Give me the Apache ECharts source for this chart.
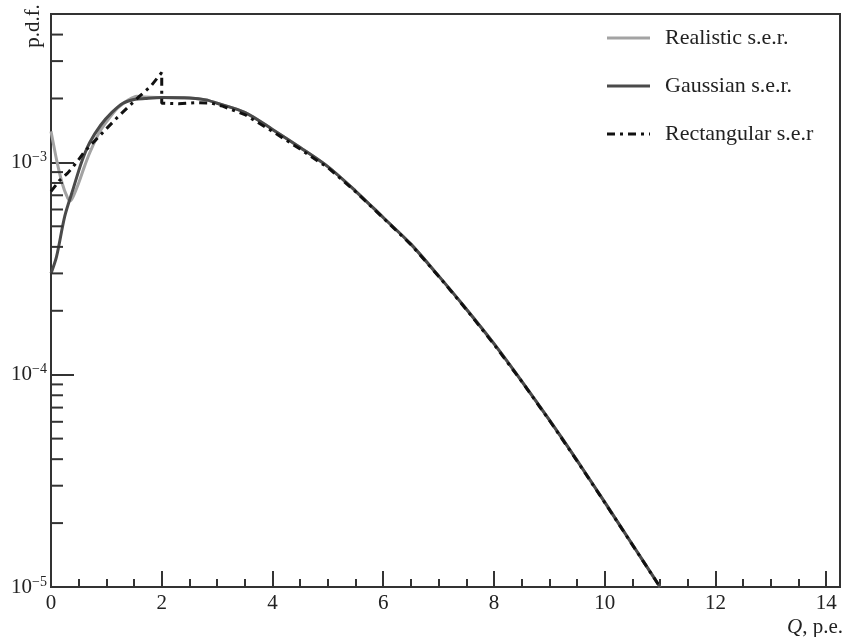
<!DOCTYPE html>
<html>
<head>
<meta charset="utf-8">
<script src="https://cdn.jsdelivr.net/npm/echarts@6/dist/echarts.min.js"></script>
<style>html,body{margin:0;padding:0;background:#fff}#c{width:847px;height:637px}</style>
</head>
<body>
<div id="c"></div>
<script>
// Realistic s.e.r.
const realX = [0,0.05,0.1,0.2,0.3,0.35,0.4,0.5,0.6,0.7,0.85,1.0,1.2,1.4,1.55,1.7,2.0,2.5,2.8,3.0,3.5,4.0,4.5,5.0,5.5,6.0,6.5,7.0,7.5,8.0,8.5,9.0,9.5,10.0,10.5,11.0];
const realY = [1.4e-3,1.2e-3,1.03e-3,8.0e-4,6.8e-4,6.6e-4,6.9e-4,8.0e-4,9.5e-4,1.11e-3,1.35e-3,1.55e-3,1.8e-3,1.97e-3,2.05e-3,2.03e-3,2.02e-3,2.01e-3,1.97e-3,1.9e-3,1.72e-3,1.43e-3,1.175e-3,9.55e-4,7.33e-4,5.5e-4,4.12e-4,2.92e-4,2.04e-4,1.4e-4,9.33e-5,6.12e-5,3.95e-5,2.51e-5,1.585e-5,1.0e-5];
// Gaussian s.e.r.
const gaussX = [0,0.1,0.25,0.4,0.55,0.7,0.9,1.1,1.3,1.5,1.7,2.0,2.5,2.8,3.0,3.5,4.0,4.5,5.0,5.5,6.0,6.5,7.0,7.5,8.0,8.5,9.0,9.5,10.0,10.5,11.0];
const gaussY = [3.0e-4,3.6e-4,5.6e-4,7.5e-4,1.0e-3,1.24e-3,1.5e-3,1.72e-3,1.9e-3,1.98e-3,2.0e-3,2.02e-3,2.01e-3,1.97e-3,1.9e-3,1.72e-3,1.43e-3,1.175e-3,9.55e-4,7.33e-4,5.5e-4,4.12e-4,2.92e-4,2.04e-4,1.4e-4,9.33e-5,6.12e-5,3.95e-5,2.51e-5,1.585e-5,1.0e-5];
// Rectangular s.e.r
const rectX = [0,0.15,0.3,0.45,0.6,0.8,1.0,1.2,1.4,1.6,1.8,2.0,2.0,2.3,2.6,2.9,3.1,3.5,4.0,4.5,5.0,5.5,6.0,6.5,7.0,7.5,8.0,8.5,9.0,9.5,10.0,10.5,11.0];
const rectY = [7.3e-4,8.2e-4,8.9e-4,9.9e-4,1.12e-3,1.27e-3,1.44e-3,1.63e-3,1.83e-3,2.05e-3,2.28e-3,2.65e-3,1.9e-3,1.89e-3,1.91e-3,1.9e-3,1.84e-3,1.68e-3,1.4e-3,1.155e-3,9.45e-4,7.28e-4,5.47e-4,4.1e-4,2.91e-4,2.03e-4,1.39e-4,9.3e-5,6.1e-5,3.93e-5,2.5e-5,1.58e-5,1.0e-5];
// axis ticks
const yMinorTicks = [2e-5,3e-5,4e-5,5e-5,6e-5,7e-5,8e-5,9e-5,2e-4,3e-4,4e-4,5e-4,6e-4,7e-4,8e-4,9e-4,2e-3,3e-3,4e-3];
const seriesNames = ['Realistic s.e.r.','Gaussian s.e.r.','Rectangular s.e.r'];

const zip = (xs, ys) => xs.map((x, i) => [x, ys[i]]);
const SERIF = '"Liberation Serif", "DejaVu Serif", serif';
const SOLID_ICON = 'path://M0,0H43V3H0Z';
const DASHDOT_ICON = 'path://M0,0H8V3H0Z M13,0H16V3H13Z M21,0H29V3H21Z M34,0H37V3H34Z M42,0H43V3H42Z';
const chart = echarts.init(document.getElementById('c'));
chart.setOption({
  animation: false,
  backgroundColor: '#fff',
  grid: {left: 51, right: 7, top: 14, bottom: 50, show: true, borderColor: '#333', borderWidth: 2, backgroundColor: 'transparent'},
  legend: {
    orient: 'vertical', left: 602, top: 22,
    itemWidth: 43, itemHeight: 3, itemGap: 26,
    data: [
      {name: seriesNames[0], icon: SOLID_ICON},
      {name: seriesNames[1], icon: SOLID_ICON},
      {name: seriesNames[2], icon: DASHDOT_ICON}
    ],
    textStyle: {fontFamily: SERIF, fontSize: 22, color: '#222', padding: [0,0,0,10], lineHeight: 22}
  },
  xAxis: [{
    type: 'value', min: 0, max: 14.25, interval: 2,
    axisLine: {show: true, lineStyle: {color: '#333', width: 2}},
    axisTick: {show: true, inside: true, length: 16, lineStyle: {color: '#333', width: 2}},
    axisLabel: {fontFamily: SERIF, fontSize: 21, color: '#222', margin: 6,
      formatter: v => (Math.abs(v / 2 - Math.round(v / 2)) < 1e-6 ? String(v) : '')},
    splitLine: {show: false}
  }, {
    type: 'value', min: 0, max: 14.25, interval: 0.5, position: 'bottom',
    axisLine: {show: false},
    axisTick: {show: true, inside: true, length: 8, lineStyle: {color: '#333', width: 2}},
    axisLabel: {show: false},
    splitLine: {show: false}
  }],
  yAxis: {
    type: 'log', logBase: 10, min: 1e-5, max: 5e-3,
    axisLine: {show: true, lineStyle: {color: '#333', width: 2}},
    axisTick: {show: true, inside: true, length: 23, lineStyle: {color: '#333', width: 2}},
    splitLine: {show: false},
    axisLabel: {
      margin: 4, color: '#222',
      formatter: v => {
        const l = Math.log10(v), e = Math.round(l);
        if (Math.abs(l - e) > 0.01) return '';
        return '{n|10}{s|−' + (-e) + '}';
      },
      rich: {
        n: {fontFamily: SERIF, fontSize: 21, color: '#222'},
        s: {fontFamily: SERIF, fontSize: 14, color: '#222', padding: [0,0,10,0]}
      }
    }
  },
  graphic: [
    {type: 'text', x: 33, y: 26, rotation: Math.PI / 2,
      style: {text: 'p.d.f.', font: '21px ' + SERIF, fill: '#222', align: 'center', verticalAlign: 'middle'}},
    {type: 'text', x: 843, y: 627,
      style: {text: '{q|Q}, p.e.', font: '21px ' + SERIF, fill: '#222', align: 'right', verticalAlign: 'middle',
        rich: {q: {fontStyle: 'italic', fontFamily: SERIF, fontSize: 21, fill: '#222'}}}}
  ],
  series: [
    {name: seriesNames[0], type: 'line', data: zip(realX, realY), symbol: 'none', smooth: 0.3,
      lineStyle: {color: '#a3a3a3', width: 3}, itemStyle: {color: '#a3a3a3'}, z: 2},
    {name: seriesNames[1], type: 'line', data: zip(gaussX, gaussY), symbol: 'none', smooth: 0.3,
      lineStyle: {color: '#4a4a4a', width: 3}, itemStyle: {color: '#4a4a4a'}, z: 3},
    {name: seriesNames[2], type: 'line', data: zip(rectX, rectY), symbol: 'none', smooth: false,
      lineStyle: {color: '#111', width: 3, type: [8,5,3,5]}, itemStyle: {color: '#111'}, z: 4},
    {type: 'custom', silent: true, clip: false, z: 5,
      data: yMinorTicks.map(v => [0, v]),
      renderItem: (params, api) => {
        const p = api.coord([0, api.value(1)]);
        return {type: 'line', shape: {x1: p[0], y1: p[1], x2: p[0] + 12, y2: p[1]},
          style: {stroke: '#333', lineWidth: 2}};
      }}
  ]
});
</script>
</body>
</html>
